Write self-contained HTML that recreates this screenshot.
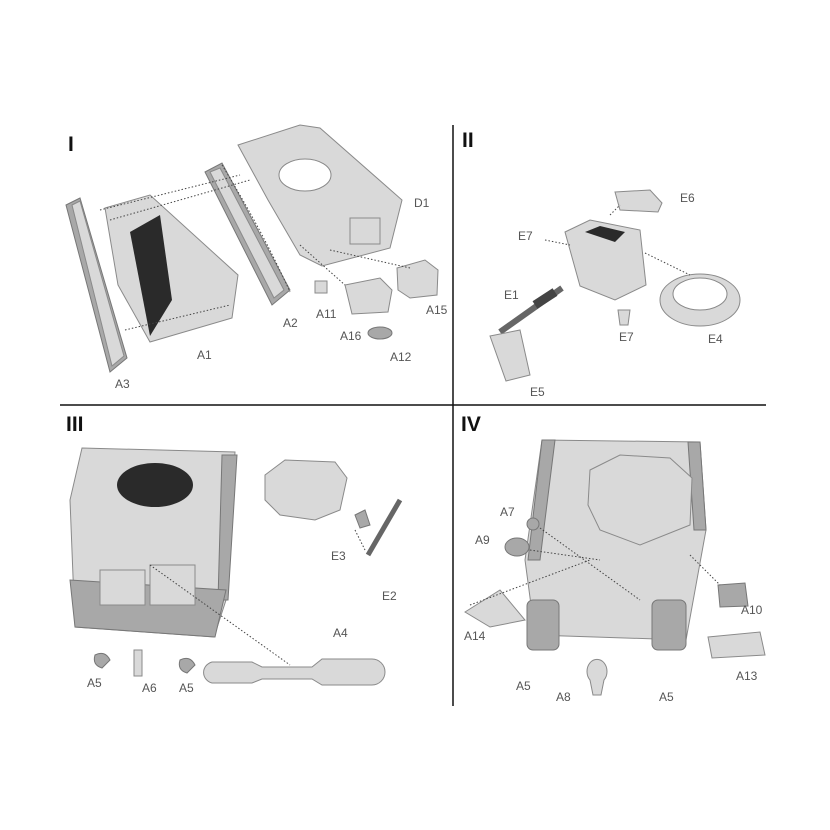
<!DOCTYPE html>
<html><head><meta charset="utf-8"><style>
html,body{margin:0;padding:0;background:#fff;}
svg{display:block}
text{font-family:"Liberation Sans",sans-serif;}
.n{font-size:21px;font-weight:bold;fill:#111}
.l{font-size:12px;fill:#555}
.p{fill:#d9d9d9;stroke:#8a8a8a;stroke-width:1}
.d{fill:#a8a8a8;stroke:#777;stroke-width:1}
.k{fill:#2a2a2a}
.dt{stroke:#444;stroke-width:1;stroke-dasharray:1.5 2;fill:none}
</style></head><body>
<svg width="830" height="830" viewBox="0 0 830 830" xmlns="http://www.w3.org/2000/svg">
<rect width="830" height="830" fill="#fff"/>
<line x1="453" y1="125" x2="453" y2="706" stroke="#111" stroke-width="1.5"/>
<line x1="60" y1="405" x2="766" y2="405" stroke="#111" stroke-width="1.5"/>
<text class="n" x="68" y="151">I</text>
<text class="n" x="462" y="147">II</text>
<text class="n" x="66" y="431">III</text>
<text class="n" x="461" y="431">IV</text>

<!-- Quadrant I -->
<polygon class="d" points="66,205 80,198 127,358 110,372"/>
<polygon class="p" points="72,205 80,201 124,356 112,366"/>
<polygon class="p" points="105,208 150,195 238,275 232,318 150,342 118,285"/>
<polygon class="k" points="130,232 160,215 172,300 150,336"/>
<polygon class="d" points="205,172 222,163 290,290 272,305"/>
<polygon class="p" points="210,172 220,168 284,290 274,298"/>
<path class="dt" d="M222,165 Q262,230 290,292"/>
<polygon class="p" points="238,145 300,125 320,128 402,200 390,248 322,266 300,255 268,200"/>
<ellipse cx="305" cy="175" rx="26" ry="16" fill="#fff" stroke="#888"/>
<rect class="p" x="350" y="218" width="30" height="26"/>
<polygon class="p" points="397,268 425,260 438,270 437,295 410,298 398,290"/>
<polygon class="p" points="345,285 380,278 392,290 388,312 352,314"/>
<rect class="p" x="315" y="281" width="12" height="12"/>
<ellipse class="d" cx="380" cy="333" rx="12" ry="6"/>
<path class="dt" d="M100,210 L240,175 M110,220 L250,180 M125,330 L230,305 M300,245 L345,285 M330,250 L410,268"/>
<text class="l" x="414" y="207">D1</text>
<text class="l" x="283" y="327">A2</text>
<text class="l" x="316" y="318">A11</text>
<text class="l" x="426" y="314">A15</text>
<text class="l" x="340" y="340">A16</text>
<text class="l" x="390" y="361">A12</text>
<text class="l" x="197" y="359">A1</text>
<text class="l" x="115" y="388">A3</text>

<!-- Quadrant II -->
<polygon class="p" points="615,192 650,190 662,203 658,212 620,210"/>
<polygon class="p" points="565,232 590,220 640,230 646,285 615,300 580,286"/>
<polygon class="k" points="585,232 600,226 625,232 615,242"/>
<ellipse class="p" cx="700" cy="300" rx="40" ry="26"/>
<ellipse cx="700" cy="294" rx="27" ry="16" fill="#fff" stroke="#888"/>
<line x1="500" y1="332" x2="562" y2="288" stroke="#666" stroke-width="6"/>
<line x1="535" y1="305" x2="555" y2="292" stroke="#444" stroke-width="9"/>
<polygon class="p" points="490,336 520,330 530,375 506,381"/>
<polygon class="p" points="618,310 630,310 628,325 620,325"/>
<path class="dt" d="M545,240 L570,245 M645,253 L690,275 M610,215 L620,205"/>
<text class="l" x="680" y="202">E6</text>
<text class="l" x="518" y="240">E7</text>
<text class="l" x="504" y="299">E1</text>
<text class="l" x="619" y="341">E7</text>
<text class="l" x="708" y="343">E4</text>
<text class="l" x="530" y="396">E5</text>

<!-- Quadrant III -->
<polygon class="p" points="82,448 235,452 226,600 214,637 75,627 70,500"/>
<polygon class="d" points="222,455 237,455 228,600 218,600"/>
<polygon class="d" points="70,580 226,590 215,637 75,627"/>
<ellipse class="k" cx="155" cy="485" rx="38" ry="22"/>
<rect class="p" x="100" y="570" width="45" height="35"/>
<rect class="p" x="150" y="565" width="45" height="40"/>
<polygon class="p" points="265,475 285,460 335,462 347,478 340,510 315,520 280,515 265,500"/>
<polygon class="d" points="355,515 365,510 370,525 360,528"/>
<line x1="368" y1="555" x2="400" y2="500" stroke="#666" stroke-width="5"/>
<path class="p" d="M212,662 h40 l10,5 h50 l10,-8 h50 a8,8 0 0 1 0,26 h-50 l-10,-6 h-50 l-10,4 h-40 a12,11 0 0 1 0,-21z"/>
<path class="dt" d="M150,565 L290,665 M355,530 L365,550"/>
<text class="l" x="331" y="560">E3</text>
<text class="l" x="382" y="600">E2</text>
<text class="l" x="333" y="637">A4</text>
<text class="l" x="87" y="687">A5</text>
<text class="l" x="142" y="692">A6</text>
<text class="l" x="179" y="692">A5</text>
<path class="d" d="M95,655 q10,-5 15,5 l-8,8 q-10,-3 -7,-13z"/>
<rect class="p" x="134" y="650" width="8" height="26"/>
<path class="d" d="M180,660 q10,-5 15,5 l-8,8 q-10,-3 -7,-13z"/>

<!-- Quadrant IV -->
<polygon class="p" points="542,440 700,442 706,530 686,640 535,635 525,560"/>
<polygon class="d" points="542,440 555,440 540,560 528,560"/>
<polygon class="d" points="688,442 700,442 706,530 694,530"/>
<polygon class="p" points="590,470 620,455 670,458 692,478 690,525 640,545 600,530 588,505"/>
<rect class="d" x="527" y="600" width="32" height="50" rx="6"/>
<rect class="d" x="652" y="600" width="34" height="50" rx="6"/>
<polygon class="p" points="465,612 500,590 525,620 490,627"/>
<polygon class="d" points="718,585 745,583 748,606 720,607"/>
<polygon class="p" points="708,637 760,632 765,655 712,658"/>
<ellipse class="d" cx="517" cy="547" rx="12" ry="9"/>
<ellipse class="d" cx="533" cy="524" rx="6" ry="6"/>
<path class="p" d="M590,680 a10,12 0 1 1 14,0 l-3,15 h-8z"/>
<path class="dt" d="M470,605 L590,560 M530,550 L600,560 M540,528 L640,600 M690,555 L720,585"/>
<text class="l" x="500" y="516">A7</text>
<text class="l" x="475" y="544">A9</text>
<text class="l" x="741" y="614">A10</text>
<text class="l" x="464" y="640">A14</text>
<text class="l" x="736" y="680">A13</text>
<text class="l" x="516" y="690">A5</text>
<text class="l" x="556" y="701">A8</text>
<text class="l" x="659" y="701">A5</text>
</svg>
</body></html>
